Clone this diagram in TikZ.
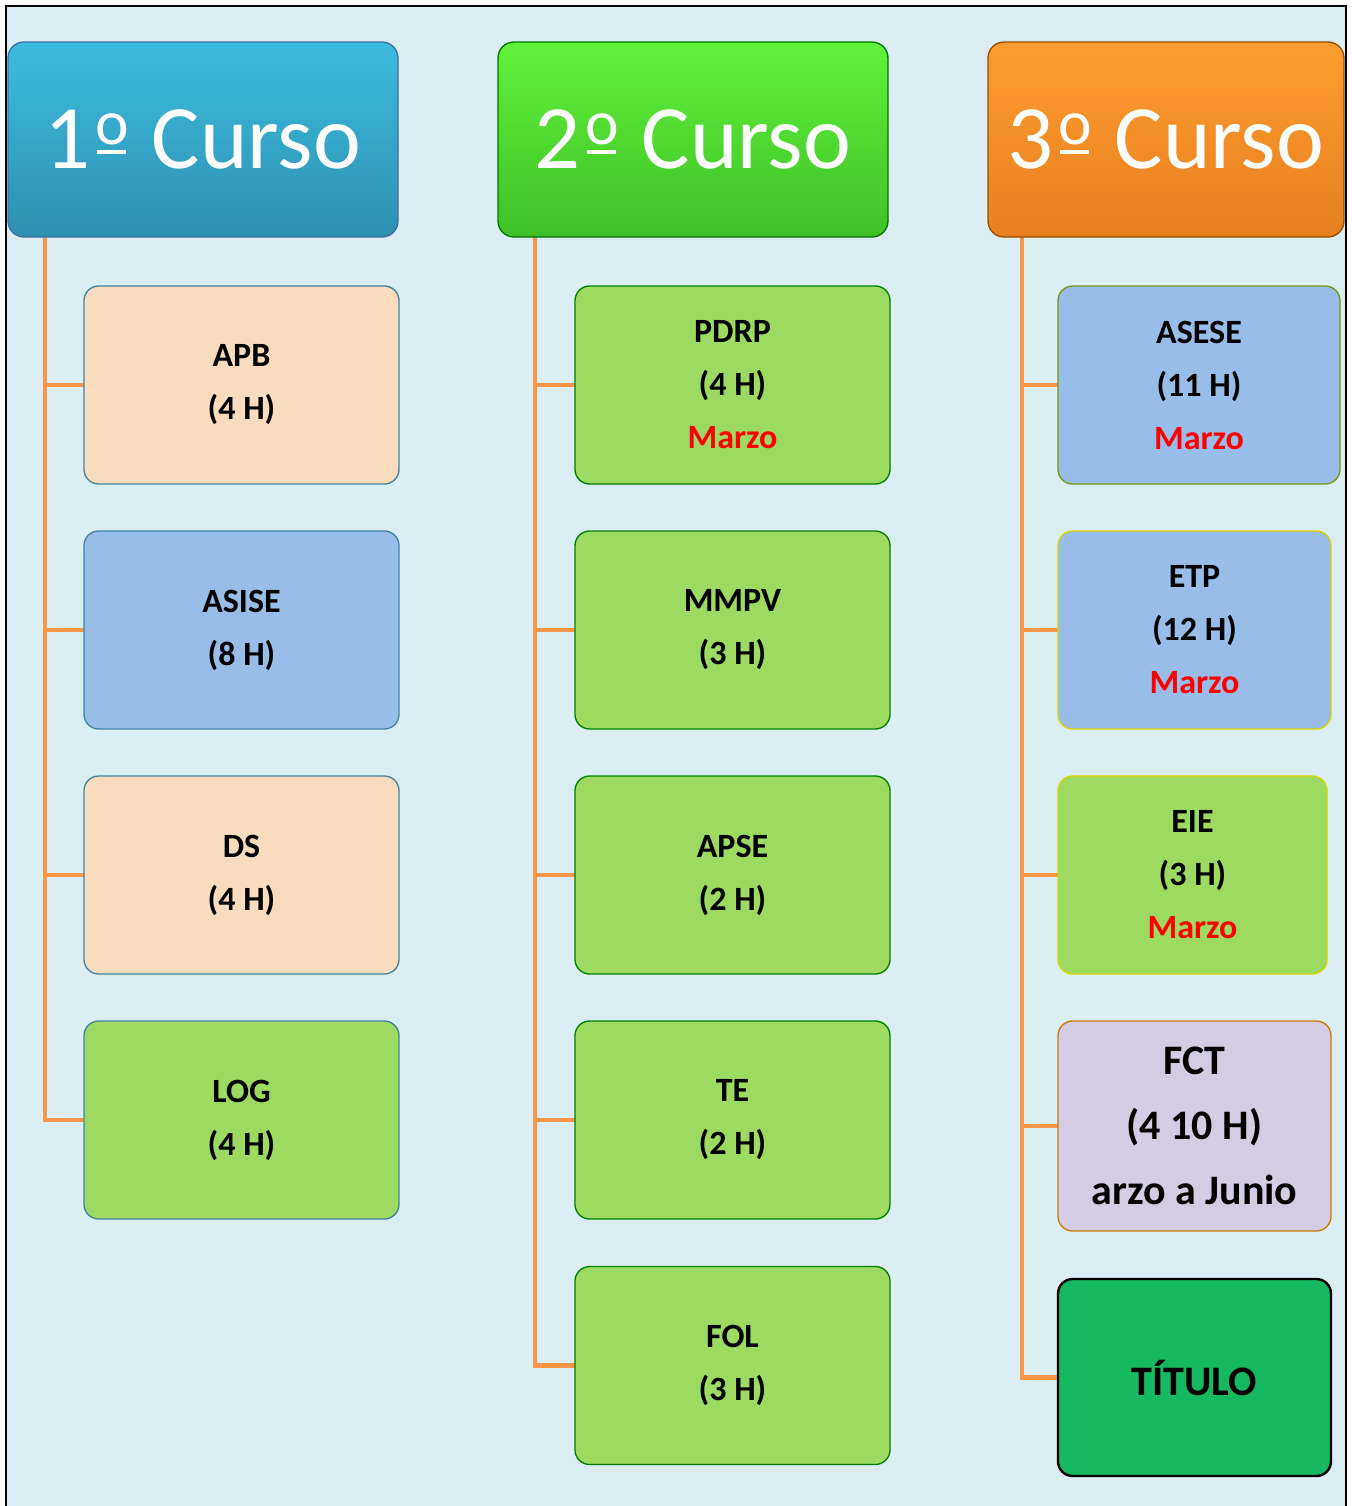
\documentclass[tikz,border=0pt]{standalone}
\usepackage{fontspec}
\setmainfont{Carlito}
\usepackage{tikz}
\usetikzlibrary{positioning}

\definecolor{fondo}{HTML}{DBEEF4}
\definecolor{rama}{HTML}{F79646}
\definecolor{melocoton}{HTML}{F9DCBD}
\definecolor{azul}{HTML}{99BDE9}
\definecolor{verde}{HTML}{9CDA62}
\definecolor{lila}{HTML}{D3CCE3}
\definecolor{titulo}{HTML}{17B862}
\definecolor{marzo}{HTML}{FF0000}

% ordinal sign with bar, as in the original font
\newcommand{\ordm}{\hspace{0.05em}\ooalign{\raisebox{0.27em}{\scalebox{0.7}{o}}\cr\hfil\rule[0.16em]{0.32em}{0.05em}\hfil\cr}\hspace{0.03em}}

\tikzset{
  x=0.75pt, y=-0.75pt,
  curso/.style={rounded corners=12pt, draw, line width=1pt, text=white,
     minimum width=292.5pt, minimum height=146.25pt,
     font=\fontsize{68}{70}\selectfont},
  modulo/.style={rounded corners=11pt, draw, line width=1pt, align=center,
     minimum width=236.25pt, minimum height=148.5pt,
     font=\fontsize{25.5}{39.75}\selectfont\bfseries},
  conn/.style={draw=rama, line width=3.5pt},
}

\begin{document}
\begin{tikzpicture}
\useasboundingbox (0,0) rectangle (1352,1506);
%draw background
\fill[fondo] (6,6) rectangle (1346,1506);
\draw[line width=1.5pt] (6,1506) -- (6,6) -- (1346,6) -- (1346,1506);
% trunk coordinates
\coordinate (t1) at (45,237);
\coordinate (t2) at (535,237);
\coordinate (t3) at (1022,237);
%draw connectors first
\foreach \y in {385,630,875,1120}{
   \draw[conn] (t1) |- (84,\y);
}
\foreach \y in {385,630,875,1120,1365.5}{
   \draw[conn] (t2) |- (575,\y);
}
\foreach \y in {385,630,875,1126,1377.5}{
   \draw[conn] (t3) |- (1058,\y);
}
% Headers
\node[curso, draw=black!40!cyan!70!blue, top color={rgb,255:red,60;green,188;blue,224}, bottom color={rgb,255:red,46;green,144;blue,176}] (h1) at (203,139.5) {1\ordm{} Curso};
\node[curso, draw=green!45!black, top color={rgb,255:red,96;green,242;blue,58}, bottom color={rgb,255:red,64;green,192;blue,40}] (h2) at (693,139.5) {2\ordm{} Curso};
\node[curso, draw=orange!60!black, top color={rgb,255:red,255;green,156;blue,48}, bottom color={rgb,255:red,230;green,128;blue,30}, minimum width=267pt] (h3) at (1166,139.5) {3\ordm{} Curso};
% 1º curso
\node[modulo, fill=melocoton, draw=cyan!60!black] (apb) at (241.5,385) {APB\\(4 H)};
\node[modulo, fill=azul, draw=cyan!60!black] (asise) at (241.5,630) {ASISE\\(8 H)};
\node[modulo, fill=melocoton, draw=cyan!60!black] (ds) at (241.5,875) {DS\\(4 H)};
\node[modulo, fill=verde, draw=cyan!60!black] (log) at (241.5,1120) {LOG\\(4 H)};
% 2º curso
\node[modulo, fill=verde, draw=green!50!black] (pdrp) at (732.5,385) {PDRP\\(4 H)\\\textcolor{marzo}{Marzo}};
\node[modulo, fill=verde, draw=green!50!black] (mmpv) at (732.5,630) {MMPV\\(3 H)};
\node[modulo, fill=verde, draw=green!50!black] (apse) at (732.5,875) {APSE\\(2 H)};
\node[modulo, fill=verde, draw=green!50!black] (te) at (732.5,1120) {TE\\(2 H)};
\node[modulo, fill=verde, draw=green!50!black] (fol) at (732.5,1365.5) {FOL\\(3 H)};
% 3º curso
\node[modulo, fill=azul, draw=olive!70!green, minimum width=211.5pt] (asese) at (1199,385) {ASESE\\(11 H)\\\textcolor{marzo}{Marzo}};
\node[modulo, fill=azul, draw=yellow!70!olive, minimum width=204.75pt] (etp) at (1194.5,630) {ETP\\(12 H)\\\textcolor{marzo}{Marzo}};
\node[modulo, fill=verde, draw=yellow!70!olive, minimum width=201.75pt] (eie) at (1192.5,875) {EIE\\(3 H)\\\textcolor{marzo}{Marzo}};
\node[modulo, fill=lila, draw=orange!80!yellow!80!black, minimum width=204.75pt, minimum height=157.5pt,
   font=\fontsize{31.5}{48.75}\selectfont\bfseries] (fct) at (1194.5,1126) {FCT\\(4 10 H)\\arzo a Junio};
\node[modulo, fill=titulo, draw=black, line width=1.8pt, minimum width=204.75pt, minimum height=147.75pt,
   font=\fontsize{31.5}{40}\selectfont\bfseries] (tit) at (1194.5,1377.5) {TÍTULO};
\end{tikzpicture}
\end{document}
